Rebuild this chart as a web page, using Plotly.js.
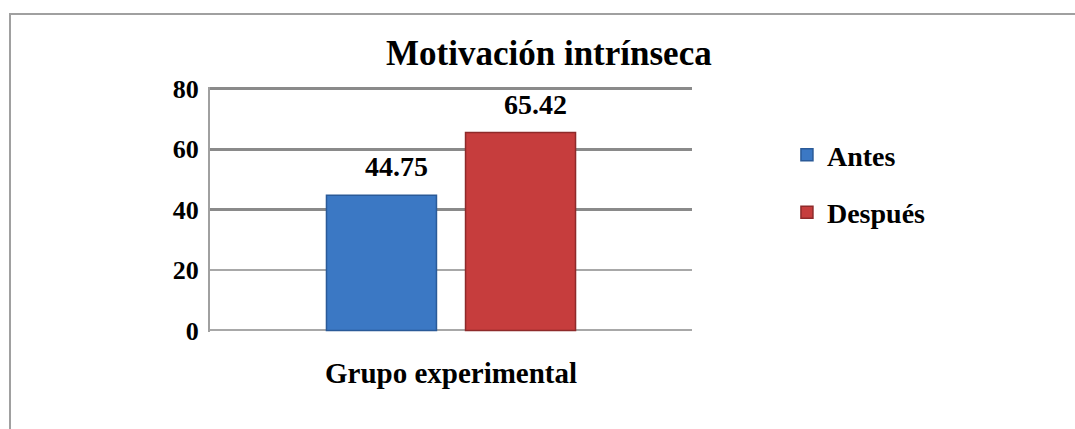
<!DOCTYPE html>
<html>
<head>
<meta charset="utf-8">
<script src="https://cdn.plot.ly/plotly-3.0.1.min.js"></script>
<style>
  html, body { margin: 0; padding: 0; background: #fff; overflow: hidden; }
  #chart { width: 1075px; height: 429px; }
</style>
</head>
<body>
<div id="chart"></div>
<script>
// ---- data ----
const categories = ["Grupo experimental"];
const seriesNames = ["Antes", "Después"];
const antes = [44.75];
const despues = [65.42];
const yTickValues = [0, 20, 40, 60, 80];
const yTickLabels = ["0", "20", "40", "60", "80"];
const chartTitle = "Motivación intrínseca";

// ---- style ----
const FONT = "Liberation Serif";
const colors = ["#3b78c4", "#c63d3d"];
const lineColors = ["#2a5a98", "#8e2a2a"];
const BARGAP = 0.423;
const BARGROUPGAP = 0.209;
const Y_RANGE = [-0.5, 80.5];
const bold = s => "<b>" + s + "</b>";

const seriesValues = [antes, despues];
const traces = seriesValues.map((vals, i) => ({
  type: "bar",
  name: bold(seriesNames[i]),
  x: categories,
  y: vals,
  legendgroup: "g" + i,
  marker: { color: colors[i], line: { color: lineColors[i], width: 1.5 } },
  hoverinfo: "skip"
}));

// grid helper axes (thick grid for upper lines, thin for lower ones)
const gridAxisBase = {
  range: Y_RANGE, overlaying: "y", showticklabels: false, zeroline: false,
  showline: false, ticks: "", fixedrange: true
};
traces.push({ type: "scatter", x: categories, y: [null], yaxis: "y2", showlegend: false, hoverinfo: "skip" });
traces.push({ type: "scatter", x: categories, y: [null], yaxis: "y3", showlegend: false, hoverinfo: "skip" });

// data labels placed at each bar centre (computed from the grouped bar geometry)
const nSeries = seriesValues.length;
const groupWidth = 1 - BARGAP;
const slot = groupWidth / nSeries;
const annotations = [];
seriesValues.forEach((vals, i) => {
  vals.forEach((v, c) => {
    annotations.push({
      x: c - groupWidth / 2 + slot * (i + 0.5),
      y: v,
      xref: "x", yref: "y",
      text: bold(v.toFixed(2)),
      showarrow: false,
      xanchor: "center", yanchor: "bottom",
      xshift: 15, yshift: 11,
      font: { family: FONT, size: 28, color: "#000" }
    });
  });
});

// outer frame (left and top edges of the chart box)
const paperX = px => (px - 210) / (1075 - 210 - 383);
const paperY = py => (429 - 97 - py) / (429 - 87 - 97);
const shapes = [{
  type: "path", xref: "paper", yref: "paper",
  path: "M " + paperX(1090) + "," + paperY(14) + " L " + paperX(10) + "," + paperY(14) +
        " L " + paperX(10) + "," + paperY(440),
  line: { color: "#a0a0a0", width: 2 }
}];

const layout = {
  width: 1075, height: 429,
  margin: { l: 210, r: 383, t: 87, b: 97 },
  paper_bgcolor: "#fff", plot_bgcolor: "#fff",
  font: { family: FONT, color: "#000" },
  title: {
    text: bold(chartTitle),
    font: { family: FONT, size: 35, color: "#000" },
    x: 0.703, xref: "paper", xanchor: "center",
    y: 1 - 53 / 429, yref: "container", yanchor: "middle"
  },
  barmode: "group",
  bargap: BARGAP,
  bargroupgap: BARGROUPGAP,
  showlegend: true,
  legend: {
    x: 1.197, xanchor: "left", y: 0.824, yanchor: "top",
    font: { family: FONT, size: 28, color: "#000" },
    traceorder: "grouped", tracegroupgap: 18,
    bgcolor: "rgba(0,0,0,0)"
  },
  xaxis: {
    type: "category",
    tickvals: categories, ticktext: categories.map(bold),
    showgrid: false, zeroline: false, showline: false, ticks: "",
    tickfont: { family: FONT, size: 29, color: "#000" },
    ticklabelstandoff: 21,
    fixedrange: true
  },
  yaxis: {
    range: Y_RANGE,
    tickvals: yTickValues, ticktext: yTickLabels.map(bold),
    tickfont: { family: FONT, size: 26, color: "#000" },
    showgrid: false, zeroline: false,
    showline: true, linecolor: "#a0a0a0", linewidth: 2,
    ticks: "", ticklabelstandoff: 4,
    fixedrange: true
  },
  yaxis2: Object.assign({}, gridAxisBase, {
    tickvals: [40, 60, 80], showgrid: true, gridcolor: "#8a8a8a", gridwidth: 3
  }),
  yaxis3: Object.assign({}, gridAxisBase, {
    tickvals: [0, 20], showgrid: true, gridcolor: "#a8a8a8", gridwidth: 2
  }),
  shapes: shapes,
  annotations: annotations
};

Plotly.newPlot("chart", traces, layout, { displayModeBar: false, staticPlot: true });
</script>
</body>
</html>
